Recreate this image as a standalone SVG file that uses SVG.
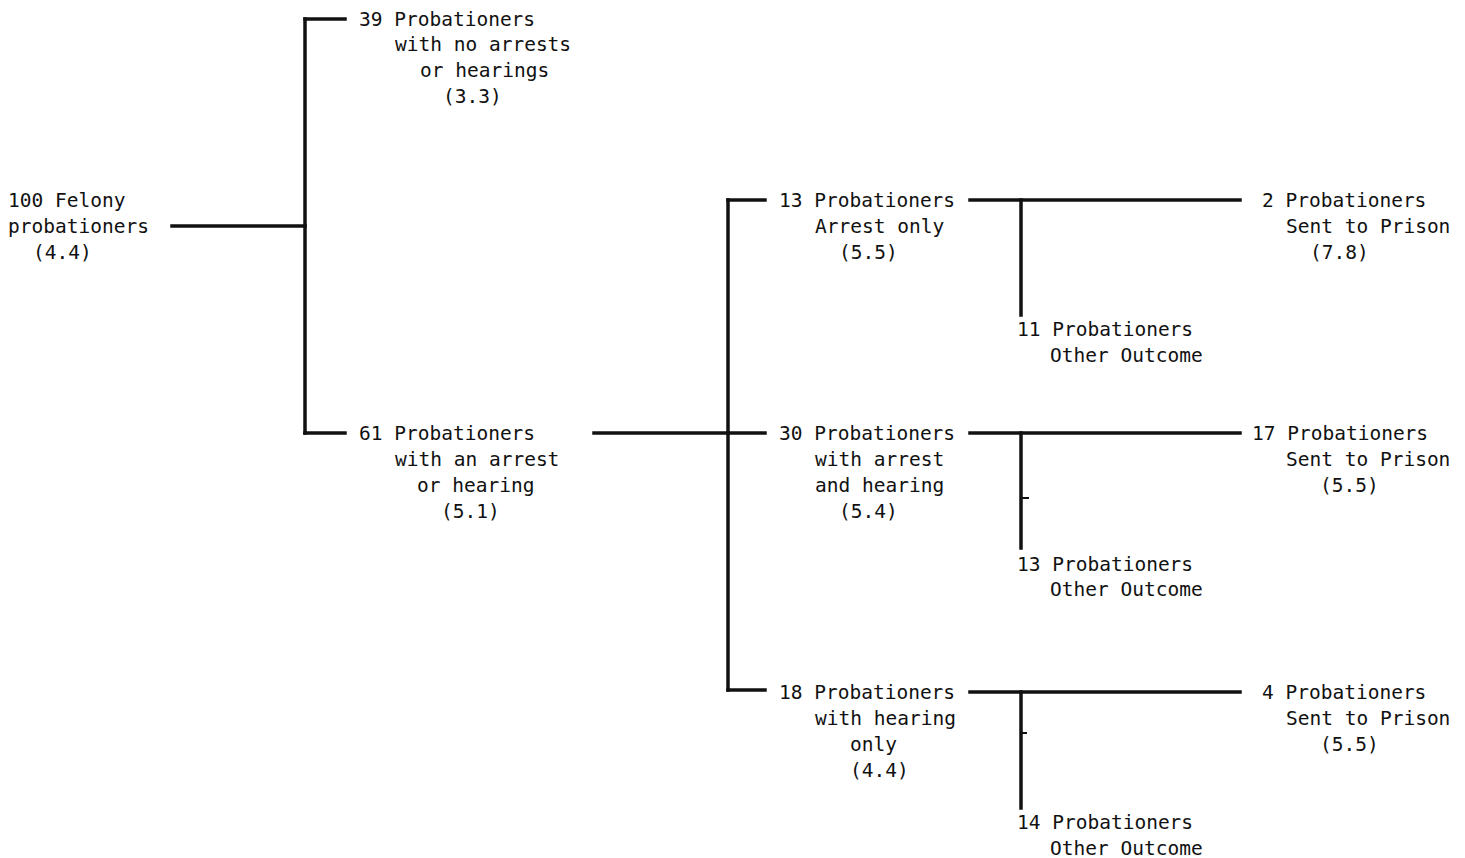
<svg xmlns="http://www.w3.org/2000/svg" width="1465" height="858" viewBox="0 0 1465 858">
<style>
text { font-family: "DejaVu Sans Mono", "Liberation Mono", monospace; font-size: 19.5px; fill: #111; }
.c line { stroke: #111; stroke-width: 3.5; stroke-linecap: square; }
.c line.t { stroke-width: 2; }
</style>
<rect width="1465" height="858" fill="#fff"/>
<g class="c" id="connectors">
<line x1="172" y1="226" x2="305" y2="226"/>
<line x1="305" y1="19" x2="305" y2="433"/>
<line x1="305" y1="19" x2="345" y2="19"/>
<line x1="305" y1="433" x2="345" y2="433"/>
<line x1="594" y1="433" x2="765" y2="433"/>
<line x1="728" y1="200" x2="728" y2="690"/>
<line x1="728" y1="200" x2="765" y2="200"/>
<line x1="728" y1="690" x2="765" y2="690"/>
<line x1="970" y1="200" x2="1240" y2="200"/>
<line x1="1021" y1="200" x2="1021" y2="315"/>
<line x1="970" y1="433" x2="1240" y2="433"/>
<line x1="1021" y1="433" x2="1021" y2="548"/>
<line class="t" x1="1021" y1="498" x2="1028" y2="498"/>
<line x1="970" y1="692" x2="1240" y2="692"/>
<line x1="1021" y1="692" x2="1021" y2="808"/>
<line class="t" x1="1021" y1="733" x2="1026" y2="733"/>
</g>
<g id="n100"><text><tspan x="8" y="207">100 Felony</tspan><tspan x="8" y="233">probationers</tspan><tspan x="33" y="259">(4.4)</tspan></text></g>
<g id="n39"><text><tspan x="359" y="26">39 Probationers</tspan><tspan x="395" y="51">with no arrests</tspan><tspan x="420" y="77">or hearings</tspan><tspan x="443" y="103">(3.3)</tspan></text></g>
<g id="n61"><text><tspan x="359" y="440">61 Probationers</tspan><tspan x="395" y="466">with an arrest</tspan><tspan x="417" y="492">or hearing</tspan><tspan x="441" y="518">(5.1)</tspan></text></g>
<g id="n13a"><text><tspan x="779" y="207">13 Probationers</tspan><tspan x="815" y="233">Arrest only</tspan><tspan x="839" y="259">(5.5)</tspan></text></g>
<g id="n30"><text><tspan x="779" y="440">30 Probationers</tspan><tspan x="815" y="466">with arrest</tspan><tspan x="815" y="492">and hearing</tspan><tspan x="839" y="518">(5.4)</tspan></text></g>
<g id="n18"><text><tspan x="779" y="699">18 Probationers</tspan><tspan x="815" y="725">with hearing</tspan><tspan x="850" y="751">only</tspan><tspan x="850" y="777">(4.4)</tspan></text></g>
<g id="n11"><text><tspan x="1017" y="336">11 Probationers</tspan><tspan x="1050" y="362">Other Outcome</tspan></text></g>
<g id="n13b"><text><tspan x="1017" y="571">13 Probationers</tspan><tspan x="1050" y="596">Other Outcome</tspan></text></g>
<g id="n14"><text><tspan x="1017" y="829">14 Probationers</tspan><tspan x="1050" y="855">Other Outcome</tspan></text></g>
<g id="n2"><text><tspan x="1262" y="207">2 Probationers</tspan><tspan x="1286" y="233">Sent to Prison</tspan><tspan x="1310" y="259">(7.8)</tspan></text></g>
<g id="n17"><text><tspan x="1252" y="440">17 Probationers</tspan><tspan x="1286" y="466">Sent to Prison</tspan><tspan x="1320" y="492">(5.5)</tspan></text></g>
<g id="n4"><text><tspan x="1262" y="699">4 Probationers</tspan><tspan x="1286" y="725">Sent to Prison</tspan><tspan x="1320" y="751">(5.5)</tspan></text></g>
</svg>
